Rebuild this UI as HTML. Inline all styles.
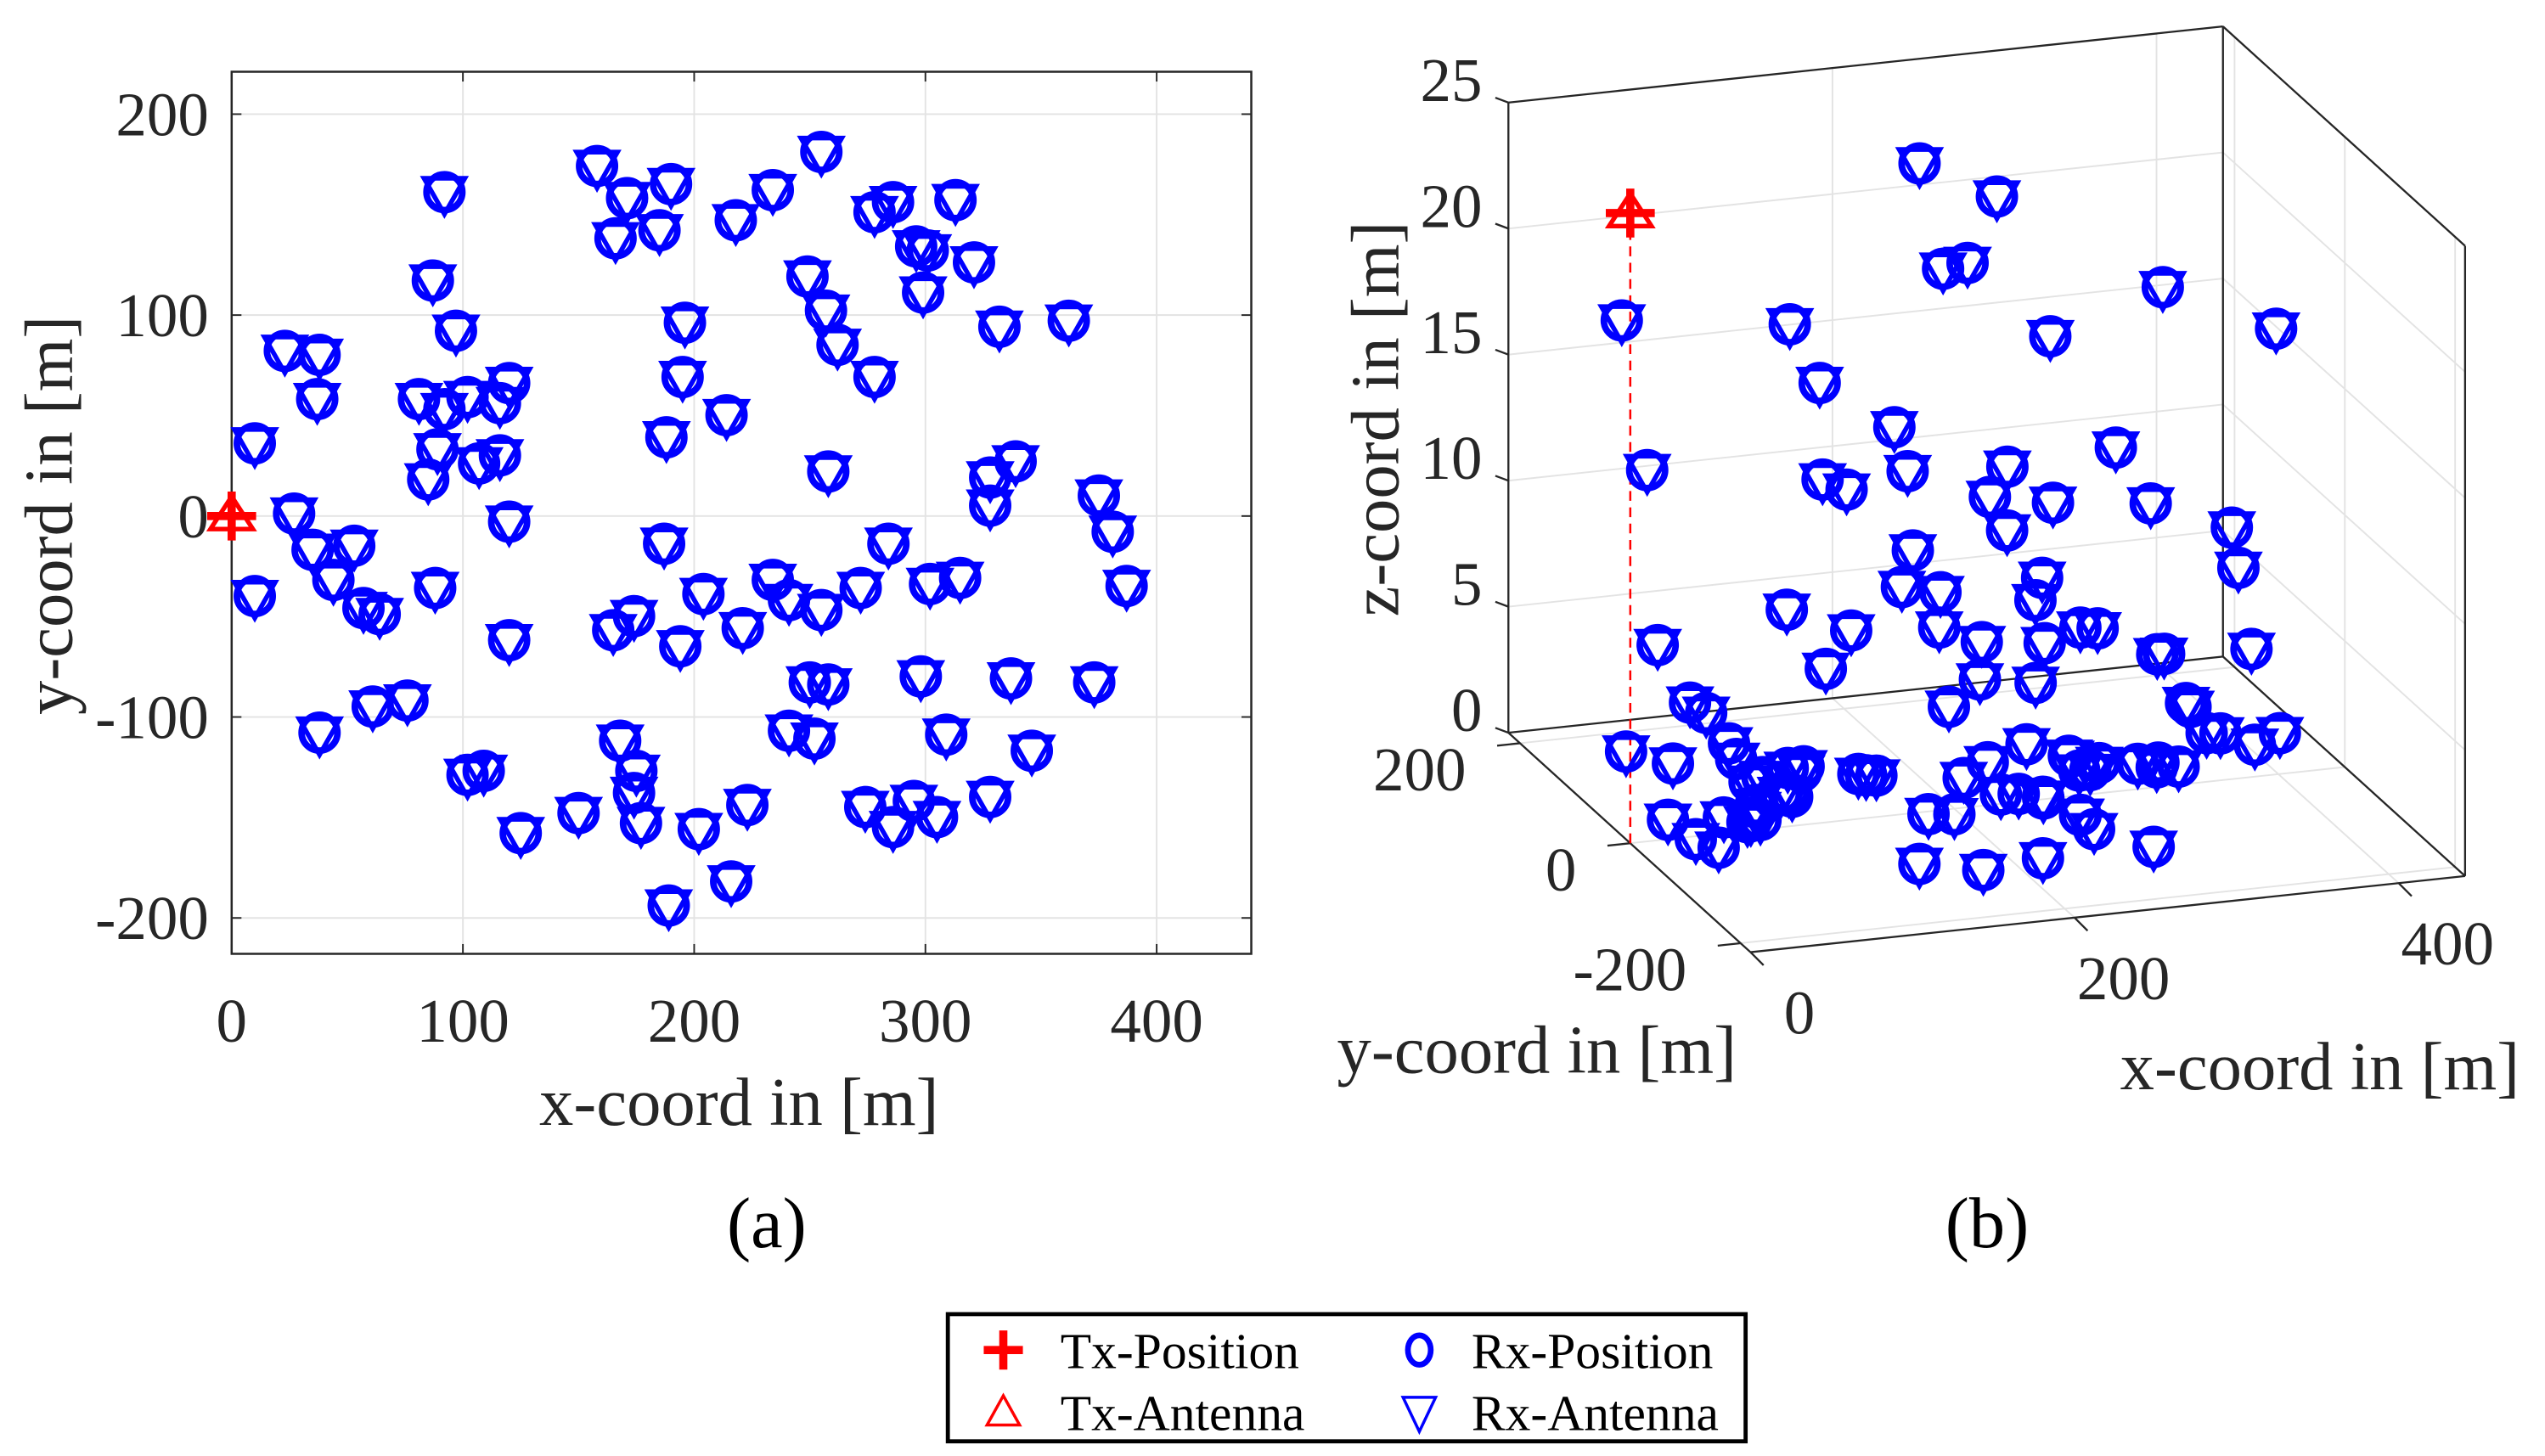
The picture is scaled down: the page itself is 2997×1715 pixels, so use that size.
<!DOCTYPE html>
<html><head><meta charset="utf-8"><style>
html,body{margin:0;padding:0;background:#fff;}
svg{display:block;}
text{font-family:"Liberation Serif",serif;fill:#262626;}
</style></head><body>
<svg id="fig" width="2997" height="1715" viewBox="0 0 1560 893" preserveAspectRatio="none" xmlns="http://www.w3.org/2000/svg">
<g id="pa"></g>
<g id="pb"></g>
<text x="470" y="765" font-size="44" text-anchor="middle" style="fill:#000">(a)</text>
<text x="1218" y="765" font-size="44" text-anchor="middle" style="fill:#000">(b)</text>
<g>
<rect x="581" y="806" width="489" height="78" fill="#fff" stroke="#000" stroke-width="2.5"/>
<g>
<path d="M603 828 H627 M615 816 V840" stroke="#f00" stroke-width="5" fill="none"/>
<text x="650" y="839" font-size="31" style="fill:#000">Tx-Position</text></g>
<g>
<path d="M615 856 L605 874 L625 874 Z" stroke="#f00" stroke-width="1.8" fill="none"/>
<text x="650" y="877" font-size="31" style="fill:#000">Tx-Antenna</text></g>
<g>
<ellipse cx="870" cy="828" rx="7" ry="9" stroke="#00f" stroke-width="3.5" fill="none"/>
<text x="902" y="839" font-size="31" style="fill:#000">Rx-Position</text></g>
<g>
<path d="M860 857 L880 857 L870 878 Z" stroke="#00f" stroke-width="1.8" fill="none"/>
<text x="902" y="877" font-size="31" style="fill:#000">Rx-Antenna</text></g>
</g>
</svg>
<script>
// ---- data ----
const rxX = [92,158,171,190,166,185,218,234,255,278,286,313,296,301,321,299,87,23,38,37,97,249,257,262,196,195,278,332,362,10,81,92,102,116,120,89,85,107,116,214,188,258,328,328,339,375,381,387,27,120,35,44,53,57,64,10,88,187,120,165,174,194,204,221,234,241,255,272,284,302,315,250,258,298,337,373,38,61,76,168,102,109,175,174,177,150,125,202,223,216,189,241,252,309,346,274,286,295,305,328];
const rxY = [162,175,159,166,139,143,148,163,182,152,157,158,135,133,127,112,118,83,81,59,93,120,103,86,97,70,70,95,98,37,59,54,60,57,67,34,19,27,31,51,40,23,20,6,28,11,-7,-34,2,-2,-16,-31,-14,-45,-48,-39,-35,-13,-61,-56,-49,-64,-38,-55,-31,-41,-46,-35,-13,-33,-30,-82,-83,-79,-80,-82,-107,-94,-91,-111,-128,-126,-126,-137,-152,-147,-157,-155,-143,-181,-193,-106,-110,-108,-116,-144,-154,-141,-149,-139];
const rxZ = [1.8,16.1,14,9.5,10.6,4.4,5.8,22.2,17.5,20.8,7.4,14.9,5,3.3,3.9,9.3,2.3,19,13,6.5,0.9,19,10,11.5,13.3,12.1,7.3,11.6,17.7,2.9,2.3,0.8,0.8,7.4,0.9,0.3,0.5,0.8,1.5,3,9.6,4.2,10.9,0.9,4.7,9.8,5.3,18.5,3,6.2,0.3,0.2,1,1.4,1.5,1.7,2,9,3.2,1.2,8.4,6.5,7.4,1.6,3,1,2.7,1.8,6.9,1.8,6,1.1,0.5,2.6,3.7,3.5,2.8,3.5,4.4,3.7,4.6,4.5,0.3,4.8,3.8,3.1,1.5,3.6,4.8,3.3,2,3.4,3.7,5.5,3.9,0.9,4.2,6.4,5.3,11.5];
const txPos = [0, 0, 25];
const xTicks2D = [0,100,200,300,400];
const yTicks2D = [-200,-100,0,100,200];
const xTicks3D = [0,200,400];
const yTicks3D = [-200,0,200];
const zTicks3D = [0,5,10,15,20,25];

const NS = "http://www.w3.org/2000/svg";
function el(tag, attrs, parent) {
  const e = document.createElementNS(NS, tag);
  for (const k in attrs) e.setAttribute(k, attrs[k]);
  parent.appendChild(e);
  return e;
}
const TICKF = 38, TITLEF = 42;

// ---- panel a ----
const pa = document.getElementById('pa');
const A = {l:142, r:767, t:44, b:585};
const ax = x => 142 + x * 1.4175;
const ay = y => 316.5 - y * 1.2325;
el('rect', {x:A.l, y:A.t, width:A.r-A.l, height:A.b-A.t, fill:'#fff'}, pa);
xTicks2D.forEach(v => {
  const g = el('line', {x1:ax(v), x2:ax(v), y1:A.t, y2:A.b, stroke:'#e3e3e3', 'stroke-width':1}, pa);
  
  
  el('line', {x1:ax(v), x2:ax(v), y1:A.b, y2:A.b-6, stroke:'#262626', 'stroke-width':1}, pa);
  el('line', {x1:ax(v), x2:ax(v), y1:A.t, y2:A.t+6, stroke:'#262626', 'stroke-width':1}, pa);
  const t = el('text', {x:ax(v), y:639, 'font-size':TICKF, 'text-anchor':'middle'}, pa);
  t.textContent = v;
  
  
});
yTicks2D.forEach(v => {
  const g = el('line', {x1:A.l, x2:A.r, y1:ay(v), y2:ay(v), stroke:'#e3e3e3', 'stroke-width':1}, pa);
  
  
  el('line', {x1:A.l, x2:A.l+6, y1:ay(v), y2:ay(v), stroke:'#262626', 'stroke-width':1}, pa);
  el('line', {x1:A.r, x2:A.r-6, y1:ay(v), y2:ay(v), stroke:'#262626', 'stroke-width':1}, pa);
  const t = el('text', {x:128, y:ay(v)+13, 'font-size':TICKF, 'text-anchor':'end'}, pa);
  t.textContent = v;
  
  
});
const boxA = el('rect', {x:A.l, y:A.t, width:A.r-A.l, height:A.b-A.t, fill:'none', stroke:'#262626', 'stroke-width':1.3}, pa);


const xt = el('text', {x:453, y:690, 'font-size':TITLEF, 'text-anchor':'middle'}, pa);
xt.textContent = 'x-coord in [m]';


const yt = el('text', {x:0, y:0, 'font-size':TITLEF, 'text-anchor':'middle', transform:'translate(44,316) rotate(-90)'}, pa);
yt.textContent = 'y-coord in [m]';



function rxMarker(parent, px, py) {
  const g = el('g', {}, parent);
  
  
  el('circle', {cx:px, cy:py+1, r:11, fill:'none', stroke:'#00f', 'stroke-width':4}, g);
  el('path', {d:`M${px-12.5} ${py-7.5} L${px+12.5} ${py-7.5} L${px} ${py+14.5} Z`, fill:'none', stroke:'#00f', 'stroke-width':2.9, 'stroke-linejoin':'miter'}, g);
}
function txMarker(parent, px, py) {
  const g = el('g', {}, parent);
  
  
  el('path', {d:`M${px-15} ${py} H${px+15} M${px} ${py-15} V${py+15}`, fill:'none', stroke:'#f00', 'stroke-width':5}, g);
  el('path', {d:`M${px} ${py-12} L${px-13} ${py+8} L${px+13} ${py+8} Z`, fill:'none', stroke:'#f00', 'stroke-width':2.8}, g);
}
rxX.forEach((x, i) => rxMarker(pa, ax(x), ay(rxY[i])));
txMarker(pa, ax(txPos[0]), ay(txPos[1]));

// ---- panel b (3D) ----
const pb = document.getElementById('pb');
const XR = [0, 441], YR = [-218, 221], ZR = [0, 25];
const O = [1073, 584];
const EX = [438/441, -46.7/441], EY = [-148.4/439, -134.6/439], EZ = [0, -386.5/25];
function P(x, y, z) {
  const dx = x - XR[0], dy = y - YR[0], dz = z - ZR[0];
  return [O[0] + EX[0]*dx + EY[0]*dy + EZ[0]*dz, O[1] + EX[1]*dx + EY[1]*dy + EZ[1]*dz];
}
function line3(a, b, attrs, name) {
  const p = P(...a), q = P(...b);
  const l = el('line', Object.assign({x1:p[0], y1:p[1], x2:q[0], y2:q[1]}, attrs), pb);
  
  
  return l;
}
const grid = {stroke:'#e3e3e3', 'stroke-width':1};
const axisS = {stroke:'#262626', 'stroke-width':1.2};
zTicks3D.forEach(z => {
  line3([XR[0],YR[1],z],[XR[1],YR[1],z], grid, 'z-gridline');
  line3([XR[1],YR[1],z],[XR[1],YR[0],z], grid, 'z-gridline');
});
xTicks3D.forEach(x => {
  line3([x,YR[0],0],[x,YR[1],0], grid, 'x-gridline');
  line3([x,YR[1],0],[x,YR[1],ZR[1]], grid, 'x-gridline');
});
yTicks3D.forEach(y => {
  line3([XR[0],y,0],[XR[1],y,0], grid, 'y-gridline');
  line3([XR[1],y,0],[XR[1],y,ZR[1]], grid, 'y-gridline');
});
line3([XR[0],YR[1],0],[XR[0],YR[1],ZR[1]], axisS, 'z-axis-line');
line3([XR[0],YR[1],ZR[1]],[XR[1],YR[1],ZR[1]], axisS, 'box-edge');
line3([XR[1],YR[1],0],[XR[1],YR[1],ZR[1]], axisS, 'box-edge');
line3([XR[1],YR[1],ZR[1]],[XR[1],YR[0],ZR[1]], axisS, 'box-edge');
line3([XR[1],YR[0],0],[XR[1],YR[0],ZR[1]], axisS, 'box-edge');
line3([XR[0],YR[0],0],[XR[0],YR[1],0], axisS, 'y-axis-line');
line3([XR[0],YR[0],0],[XR[1],YR[0],0], axisS, 'x-axis-line');
line3([XR[1],YR[0],0],[XR[1],YR[1],0], axisS, 'box-edge');
line3([XR[0],YR[1],0],[XR[1],YR[1],0], axisS, 'box-edge');
zTicks3D.forEach(z => {
  const p = P(XR[0],YR[1],z);
  el('line', {x1:p[0], y1:p[1], x2:p[0]-8, y2:p[1]-3, stroke:'#262626', 'stroke-width':1.2}, pb);
  const t = el('text', {x:p[0]-16, y:p[1]-1, 'font-size':TICKF, 'text-anchor':'end'}, pb);
  t.textContent = z;
  
  
});
yTicks3D.forEach(y => {
  const p = P(XR[0],y,0);
  el('line', {x1:p[0], y1:p[1], x2:p[0]-14, y2:p[1]+1.5, stroke:'#262626', 'stroke-width':1.2}, pb);
  const t = el('text', {x:p[0]-33, y:p[1]+29, 'font-size':TICKF, 'text-anchor':'end'}, pb);
  t.textContent = y;
  
  
});
xTicks3D.forEach(x => {
  const p = P(x,YR[0],0);
  el('line', {x1:p[0], y1:p[1], x2:p[0]+8, y2:p[1]+8, stroke:'#262626', 'stroke-width':1.2}, pb);
  const t = el('text', {x:p[0]+30, y:p[1]+50, 'font-size':TICKF, 'text-anchor':'middle'}, pb);
  t.textContent = x;
  
  
});
const zt = el('text', {x:0, y:0, 'font-size':TITLEF, 'text-anchor':'middle', transform:'translate(857,257) rotate(-90)'}, pb);
zt.textContent = 'z-coord in [m]';


const yt3 = el('text', {x:942, y:658, 'font-size':TITLEF, 'text-anchor':'middle'}, pb);
yt3.textContent = 'y-coord in [m]';


const xt3 = el('text', {x:1422, y:668, 'font-size':TITLEF, 'text-anchor':'middle'}, pb);
xt3.textContent = 'x-coord in [m]';


const s0 = P(txPos[0], txPos[1], 0), s1 = P(txPos[0], txPos[1], txPos[2]);
const stem = el('line', {x1:s0[0], y1:s0[1], x2:s1[0], y2:s1[1], stroke:'#f00', 'stroke-width':1.3, 'stroke-dasharray':'6,4'}, pb);


rxX.forEach((x, i) => { const p = P(x, rxY[i], rxZ[i]); rxMarker(pb, p[0], p[1]); });
txMarker(pb, s1[0], s1[1]);
</script>
</body></html>
